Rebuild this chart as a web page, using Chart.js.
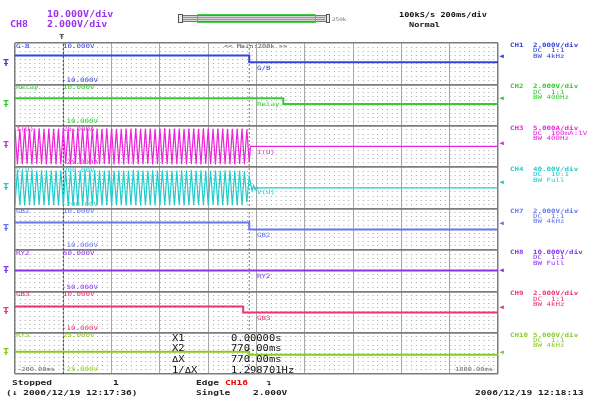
<!DOCTYPE html>
<html lang="en">
<head>
    <meta charset="UTF-8">
    <title>Recorder Capture</title>
    <script src="https://cdn.jsdelivr.net/npm/chart.js"></script>
    <style>
        body { margin: 0; background: #fff; }
        #wrap { position: relative; width: 589px; height: 400px; overflow: hidden; font-family: "DejaVu Sans Mono", monospace; }
        #scope { position: absolute; left: 0; top: 0; }
        .t { position: absolute; white-space: pre; line-height: 1; transform: scaleY(0.8); transform-origin: 0 50%; }
        .box { position: absolute; box-sizing: border-box; }
    </style>
</head>
<body>
<div id="wrap">
    <canvas id="scope" width="589" height="400"></canvas>
    <!-- zoom position bar -->
    <div class="box" style="left:178px;top:15px;width:152px;height:7px;border:1px solid #777;background:#d4d4d4"></div>
    <div class="box" style="left:183px;top:17px;width:142px;height:3px;border-top:1px solid #999;border-bottom:1px solid #999"></div>
    <div class="box" style="left:178px;top:14px;width:5px;height:9px;border:1px solid #555;background:#eee"></div>
    <div class="box" style="left:326px;top:14px;width:4px;height:9px;border:1px solid #555;background:#eee"></div>
    <div class="box" style="left:197px;top:14px;width:119px;height:9px;border:1px solid #44cc44"></div>
</div>

<script>
    // time axis (ms)
    const timeMin = -200;
    const timeMax = 1800;
    const cursorX = [0, 770];

    // channels, top to bottom
    const chIds = ['CH1', 'CH2', 'CH3', 'CH4', 'CH7', 'CH8', 'CH9', 'CH10'];
    const chTags = ['G-B', 'Relay', 'I(U)', 'V(U)', 'GB2', 'RY2', 'GB3', 'RY3'];
    const traceTags = ['G/B', 'Relay', 'I(U)', 'V(U)', 'GB2', 'RY2', 'GB3', ''];
    const chColors = ['#3344dd', '#33cc33', '#ee22dd', '#22cccc', '#6677ee', '#8833ee', '#ee3377', '#88cc22'];
    const chRanges = [10, 10, 25, 200, 10, 50, 10, 25];
    const chRangeText = ['10.000V', '10.000V', '25.000A', '200.00V', '10.000V', '50.000V', '10.000V', '25.000V'];
    const chDiv = ['2.000V/div', '2.000V/div', '5.000A/div', '40.00V/div', '2.000V/div', '10.000V/div', '2.000V/div', '5.000V/div'];
    const chCoupling = ['DC  1:1', 'DC  1:1', 'DC  100mA:1V', 'DC  10:1', 'DC  1:1', 'DC  1:1', 'DC  1:1', 'DC  1:1'];
    const chBw = ['BW 4kHz', 'BW 400Hz', 'BW 400Hz', 'BW Full', 'BW 4kHz', 'BW Full', 'BW 4kHz', 'BW 4kHz'];
    const markerLevels = [3.9, 3.3, 4.2, 57, 3.2, 0.5, 2.6, 2.0];

    // step signals
    const gbT = [-200, 770, 770, 1800];
    const gbV = [3.9, 3.9, 0.7, 0.7];
    const relayT = [-200, 911, 911, 1800];
    const relayV = [3.3, 3.3, 0.5, 0.5];
    const gb2T = [-200, 770, 770, 1800];
    const gb2V = [3.2, 3.2, -0.1, -0.1];
    const ry2T = [-200, 1800];
    const ry2V = [0.1, 0.1];
    const gb3T = [-200, 745, 745, 1800];
    const gb3V = [2.6, 2.6, -0.3, -0.3];
    const ry3T = [-200, 770, 770, 1800];
    const ry3V = [2.0, 2.0, -1.6, -1.6];

    // AC signals: peak times and peak values
    const waveT = [
        -200, -190, -180, -170, -160, -150, -140, -130, -120, -110,
        -100, -90, -80, -70, -60, -50, -40, -30, -20, -10,
        0, 10, 20, 30, 40, 50, 60, 70, 80, 90,
        100, 110, 120, 130, 140, 150, 160, 170, 180, 190,
        200, 210, 220, 230, 240, 250, 260, 270, 280, 290,
        300, 310, 320, 330, 340, 350, 360, 370, 380, 390,
        400, 410, 420, 430, 440, 450, 460, 470, 480, 490,
        500, 510, 520, 530, 540, 550, 560, 570, 580, 590,
        600, 610, 620, 630, 640, 650, 660, 670, 680, 690,
        700, 710, 720, 730, 740, 750, 760, 770
    ];
    const iuV = [
        21.5, -21.8, 21.2, -21.6, 21.9, -21.3, 21.4, -21.7, 21.6, -21.2,
        21.8, -21.5, 21.3, -21.9, 21.6, -21.4, 21.2, -21.7, 21.5, -21.6,
        21.9, -21.3, 21.4, -21.8, 21.6, -21.2, 21.7, -21.5, 21.3, -21.6,
        21.5, -21.8, 21.2, -21.4, 21.7, -21.6, 21.4, -21.3, 21.8, -21.5,
        21.6, -21.7, 21.3, -21.5, 21.4, -21.8, 21.6, -21.2, 21.5, -21.7,
        21.8, -21.4, 21.2, -21.6, 21.5, -21.3, 21.7, -21.8, 21.4, -21.5,
        21.6, -21.2, 21.8, -21.6, 21.3, -21.7, 21.5, -21.4, 21.6, -21.5,
        21.2, -21.8, 21.7, -21.3, 21.5, -21.6, 21.4, -21.7, 21.8, -21.2,
        21.6, -21.5, 21.3, -21.8, 21.5, -21.4, 21.7, -21.6, 21.2, -21.5,
        21.4, -21.7, 21.6, -21.3, 21.5, -21.6, 20.8, -19.5
    ];
    const vuV = [
        -168, 170, -167, 169, -171, 166, -169, 168, -170, 167,
        -166, 171, -168, 169, -167, 170, -169, 166, -170, 168,
        -167, 169, -171, 167, -168, 170, -166, 169, -170, 168,
        -169, 167, -168, 171, -167, 169, -170, 166, -168, 170,
        -171, 168, -167, 169, -169, 167, -170, 168, -166, 171,
        -168, 169, -170, 167, -169, 168, -167, 170, -171, 166,
        -168, 169, -167, 170, -169, 168, -170, 167, -166, 169,
        -170, 168, -169, 171, -167, 166, -168, 170, -169, 167,
        -171, 168, -166, 169, -170, 167, -168, 169, -167, 170,
        -169, 166, -170, 168, -167, 160, -140, 110
    ];
    const iuTailT = [775, 1800];
    const iuTailV = [0, 0];
    const vuTailT = [776, 782, 788, 794, 800, 806, 812, 1800];
    const vuTailV = [30, -25, 22, -18, 14, -8, 0, 0];

    const seriesT = [gbT, relayT, waveT.concat(iuTailT), waveT.concat(vuTailT), gb2T, ry2T, gb3T, ry3T];
    const seriesV = [gbV, relayV, iuV.concat(iuTailV), vuV.concat(vuTailV), gb2V, ry2V, gb3V, ry3V];

    function isEdge(c) {
        return c.index === 0 || c.index === 10;
    }

    function zoneAxis(k) {
        const r = chRanges[k];
        return {
            type: 'linear',
            position: 'left',
            stack: 'zones',
            stackWeight: 1,
            weight: 8 - k,
            min: -r,
            max: r,
            ticks: { display: false, stepSize: r / 5 },
            grid: {
                drawTicks: false,
                color: c => isEdge(c) ? '#7c7c7c' : '#a4a4a4',
                lineWidth: c => isEdge(c) ? 1.5 : 1
            },
            border: { display: false, dash: c => isEdge(c) ? [] : [1, 3.83] }
        };
    }

    const scales = {
        x: {
            type: 'linear',
            position: 'bottom',
            min: timeMin,
            max: timeMax,
            ticks: { display: false, stepSize: 200 },
            grid: {
                drawTicks: false,
                color: c => isEdge(c) ? '#7c7c7c' : '#a8a8a8',
                lineWidth: c => isEdge(c) ? 1.5 : 1
            },
            border: { display: false }
        },
        yc: { type: 'linear', display: false, min: 0, max: 1 }
    };
    chIds.forEach((id, k) => { scales['y' + (k + 1)] = zoneAxis(k); });

    const datasets = chIds.map((id, k) => ({
        label: id,
        data: seriesT[k].map((t, i) => ({ x: t, y: seriesV[k][i] })),
        yAxisID: 'y' + (k + 1),
        borderColor: chColors[k],
        borderWidth: (k === 2 || k === 3) ? 1.2 : 2,
        pointRadius: 0,
        tension: 0
    }));
    cursorX.forEach((t, i) => {
        datasets.push({
            label: 'X' + (i + 1),
            data: [{ x: t, y: 0 }, { x: t, y: 1 }],
            yAxisID: 'yc',
            borderColor: i === 0 ? '#444' : '#777',
            borderWidth: 1,
            borderDash: [2, 2],
            pointRadius: 0
        });
    });

    const chart = new Chart(document.getElementById('scope'), {
        type: 'line',
        data: { datasets: datasets },
        options: {
            responsive: false,
            animation: false,
            events: [],
            layout: { padding: { left: 15, right: 91, top: 43, bottom: 26 } },
            plugins: { legend: { display: false }, tooltip: { enabled: false } },
            scales: scales
        }
    });

    // ---- text overlays ----
    const wrap = document.getElementById('wrap');
    function addText(str, left, cy, size, color, weight) {
        const d = document.createElement('div');
        d.className = 't';
        d.textContent = str;
        d.style.left = left + 'px';
        d.style.top = (cy - size / 2) + 'px';
        d.style.fontSize = size + 'px';
        d.style.color = color;
        if (weight) d.style.fontWeight = weight;
        wrap.appendChild(d);
    }

    function valueAt(t, T, V) {
        let v = V[0];
        for (let i = 0; i < T.length; i++) if (T[i] <= t) v = V[i];
        return v;
    }

    const headColor = '#9933ee';
    addText('10.000V/div', 47, 14.5, 10, headColor, 'bold');
    addText('CH8', 10, 25, 10, headColor, 'bold');
    addText('2.000V/div', 47, 25, 10, headColor, 'bold');
    addText('250k', 332, 18.5, 6, '#777');
    addText('100kS/s 200ms/div', 399, 15, 8.6, '#111', 'bold');
    addText('Normal', 409, 25.5, 8.6, '#111', 'bold');
    addText('Ŧ', 59, 36, 9, '#555', 'bold');
    addText('<< Main:200k >>', 224, 46.5, 7, '#555');

    chIds.forEach((id, k) => {
        const sc = chart.scales['y' + (k + 1)];
        const col = chColors[k];
        addText(chTags[k], 16, sc.top + 2.5, 7.5, col);
        addText(chRangeText[k], 63, sc.top + 2.5, 7.5, col);
        addText('-' + chRangeText[k], 62, sc.bottom - 5, 7.5, col);
        addText('Ŧ', 3, sc.getPixelForValue(0), 10, col, 'bold');
        addText('◀', 499, sc.getPixelForValue(markerLevels[k]), 8, col);
        addText(id, 510, sc.top + 1.8, 7.5, col, 'bold');
        addText(chDiv[k], 533, sc.top + 1.8, 7.5, col, 'bold');
        addText(chCoupling[k], 533, sc.top + 7.1, 7.5, col);
        addText(chBw[k], 533, sc.top + 12.4, 7.5, col);
        if (traceTags[k]) {
            const yv = sc.getPixelForValue(valueAt(800, seriesT[k], seriesV[k]));
            addText(traceTags[k], 257, yv + 5.5, 7.5, col);
        }
    });

    addText('-200.00ms', 17, 369, 7, '#666');
    addText('1800.00ms', 455, 369, 7, '#666');

    const readLabels = ['X1', 'X2', 'ΔX', '1/ΔX'];
    const readValues = ['0.00000s', '770.00ms', '770.00ms', '1.298701Hz'];
    readLabels.forEach((s, i) => {
        addText(s, 172, 338 + i * 10.6, 10.5, '#111');
        addText(readValues[i], 231, 338 + i * 10.6, 10.5, '#111');
    });

    addText('Stopped', 12, 383, 9.5, '#222', 'bold');
    addText('1', 113, 383, 9.5, '#222', 'bold');
    addText('Edge', 196, 383, 9.5, '#222', 'bold');
    addText('CH16', 225, 383, 9.5, '#ee0000', 'bold');
    addText('↴', 266, 383, 9.5, '#222', 'bold');
    addText('(↓ 2006/12/19 12:17:36)', 6, 393, 9.5, '#222', 'bold');
    addText('Single', 196, 393, 9.5, '#222', 'bold');
    addText('2.000V', 253, 393, 9.5, '#222', 'bold');
    addText('2006/12/19 12:18:13', 475, 393, 9.5, '#222', 'bold');
</script>
</body>
</html>
